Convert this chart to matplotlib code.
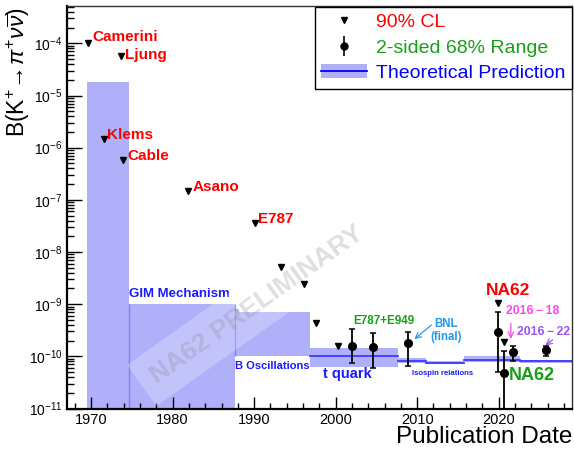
import numpy as np
import matplotlib
matplotlib.use("Agg")
import matplotlib.pyplot as plt
from matplotlib.lines import Line2D
from matplotlib.patches import Patch
from matplotlib.ticker import MultipleLocator, FixedLocator, NullFormatter

plt.rcParams['font.family'] = ['Liberation Sans', 'DejaVu Sans']
plt.rcParams['mathtext.fontset'] = 'custom'
plt.rcParams['mathtext.rm'] = 'Liberation Sans'
plt.rcParams['mathtext.it'] = 'Liberation Sans:italic'

# upper limits (90% CL)
ul_year = np.array([1969.6, 1973.7, 1971.6, 1973.9, 1981.9, 1990.1,
                    1993.3, 1996.1, 1997.6, 2000.3, 2019.9, 2020.6])
ul_val = np.array([1.0e-4, 5.7e-5, 1.47e-6, 5.8e-7, 1.46e-7, 3.6e-8,
                   5.2e-9, 2.4e-9, 4.3e-10, 1.6e-10, 1.05e-9, 1.85e-10])

# 2-sided 68% ranges
m_year = np.array([2002.0, 2004.6, 2008.9, 2019.9, 2020.6, 2021.7, 2025.8])
m_val = np.array([1.57e-10, 1.5e-10, 1.79e-10, 2.9e-10, 4.8e-11, 1.2e-10, 1.34e-10])
m_hi = np.array([3.36e-10, 2.8e-10, 2.9e-10, 7.0e-10, 1.24e-10, 1.57e-10, 1.6e-10])
m_lo = np.array([7.6e-11, 5.9e-11, 6.6e-11, 5.1e-11, 1e-13, 8.2e-11, 1.02e-10])

# theoretical predictions: start, end, low, high, central
th_x0 = [1969.5, 1974.6, 1987.6, 1988.1, 1996.9, 2007.6, 2011.1, 2015.8, 2022.6]
th_x1 = [1974.6, 1987.6, 1988.1, 1996.9, 2007.6, 2011.1, 2015.8, 2022.6, 2029.0]
th_lo = [1e-13, 1e-13, 1.0e-10, 1.0e-10, 6.2e-11, 7.4e-11, 7.2e-11, 7.9e-11, 7.4e-11]
th_hi = [1.8e-5, 1.0e-9, 8.0e-10, 7.1e-10, 1.44e-10, 9.1e-11, 8.0e-11, 1.0e-10, 8.6e-11]
th_c = [None, None, None, None, 1.02e-10, 8.2e-11, 7.6e-11, 8.5e-11, 8.0e-11]

band_col = '#b0b0fa'
line_col = '#3a3aff'

fig = plt.figure(figsize=(5.74, 4.5), dpi=100)
ax = fig.add_axes([66.7 / 574, 1 - 408.5 / 450, (572 - 66.7) / 574, (408.5 - 6) / 450])

for x0, x1, lo, hi, c in zip(th_x0, th_x1, th_lo, th_hi, th_c):
    ax.fill_between([x0, x1], lo, hi, color=band_col, lw=0, zorder=1)
    if c is not None:
        ax.plot([x0, x1], [c, c], color=line_col, lw=1.3, zorder=2)
# band edges
ax.vlines(th_x1[0], th_lo[1], th_hi[1], color='#8080f0', lw=1, zorder=2)
ax.vlines(th_x1[1], th_lo[2], th_hi[1], color='#8080f0', lw=1, zorder=2)

ax.plot(ul_year, ul_val, 'v', color='black', ms=5, zorder=4)
ax.errorbar(m_year, m_val, yerr=[m_val - m_lo, m_hi - m_val], fmt='o', color='black',
            ms=5.5, elinewidth=1.3, capsize=2.2, capthick=1.1, zorder=4)

ax.set_yscale('log')
ax.set_xlim(1967.0, 2029.0)
ax.set_ylim(1e-11, 5.2e-4)

ax.xaxis.set_major_locator(MultipleLocator(10))
ax.xaxis.set_minor_locator(MultipleLocator(2))
decades = 10.0 ** np.arange(-11, -3)
ax.yaxis.set_major_locator(FixedLocator(decades))
minors = np.concatenate([d * np.arange(2, 10) for d in decades])
ax.yaxis.set_minor_locator(FixedLocator(minors[minors < 5.2e-4]))
ax.yaxis.set_minor_formatter(NullFormatter())
ax.tick_params(axis='x', which='major', direction='in', length=8.5, width=1, labelsize=10.5, pad=3)
ax.tick_params(axis='x', which='minor', direction='in', length=4.3, width=1)
ax.tick_params(axis='y', which='major', direction='in', length=10.5, width=1, labelsize=10, pad=3)
ax.tick_params(axis='y', which='minor', direction='in', length=5, width=1)
for s in ['left', 'bottom']:
    ax.spines[s].set_linewidth(1.6)
for s in ['top', 'right']:
    ax.spines[s].set_linewidth(1.0)
    ax.spines[s].set_color('#333333')

# experiment labels
red = '#ff0000'
kw = dict(fontweight='bold', va='center', ha='left')
ax.text(1970.2, 1.32e-4, 'Camerini', color=red, fontsize=11, **kw)
ax.text(1974.2, 5.97e-5, 'Ljung', color=red, fontsize=11, **kw)
ax.text(1972.0, 1.75e-6, 'Klems', color=red, fontsize=11, **kw)
ax.text(1974.45, 6.9e-7, 'Cable', color=red, fontsize=11, **kw)
ax.text(1982.4, 1.79e-7, 'Asano', color=red, fontsize=11, **kw)
ax.text(1990.5, 4.25e-8, 'E787', color=red, fontsize=11, **kw)
ax.text(2018.4, 1.82e-9, 'NA62', color=red, fontsize=12.5, **kw)
ax.text(2021.2, 4.2e-11, 'NA62', color='#16a016', fontsize=13, **kw)
ax.text(2002.2, 4.8e-10, 'E787+E949', color='#16a016', fontsize=8.4, **kw)
ax.text(1974.7, 1.57e-9, 'GIM Mechanism', color='#1a1aff', fontsize=9.5, **kw)
ax.text(1987.7, 6.4e-11, 'B Oscillations', color='#1a1aff', fontsize=8, **kw)
ax.text(1998.45, 4.5e-11, 't quark', color='#1a1aff', fontsize=10.5, **kw)
ax.text(2009.4, 4.6e-11, 'Isospin relations', color='#1a1aff', fontsize=5.6, **kw)
ax.text(2013.5, 3.1e-10, 'BNL\n(final)', color='#2299ee', fontsize=8.3,
        fontweight='bold', ha='center', va='center', linespacing=1.1)
ax.text(2020.85, 7.55e-10, '2016\u2009\u2212\u200918', color='#ff44ee', fontsize=8.8, **kw)
ax.text(2022.25, 2.91e-10, '2016\u2009\u2212\u200922', color='#9955ee', fontsize=8.8, **kw)

ax.annotate('', xy=(2009.4, 1.98e-10), xytext=(2012.0, 4.3e-10),
            arrowprops=dict(arrowstyle='->', color='#2299ee', lw=0.9))
ax.annotate('', xy=(2021.5, 1.92e-10), xytext=(2021.5, 4.86e-10),
            arrowprops=dict(arrowstyle='->', color='#ff44ee', lw=0.9))
ax.annotate('', xy=(2025.45, 1.5e-10), xytext=(2026.9, 2.23e-10),
            arrowprops=dict(arrowstyle='->', color='#9955ee', lw=0.9))

# watermark
ax.text(1990.3, 1.0e-9, 'NA62 PRELIMINARY', fontsize=19, fontweight='bold',
        color='#808080', alpha=0.25, rotation=35.3, ha='center', va='center',
        rotation_mode='anchor', zorder=3,
        bbox=dict(boxstyle='square,pad=0.5', fc='white', ec='none', alpha=0.25))

err_handle = (Line2D([], [], marker='o', color='black', ls='none', ms=5),
              Line2D([], [], marker='|', color='black', ls='none', ms=14, mew=1.2),
              Line2D([], [], marker='_', color='black', ls='none', ms=4.5, mew=1.1))
handles = [
    Line2D([], [], marker='v', color='black', ls='none', ms=5),
    err_handle,
    (Patch(facecolor=band_col, edgecolor='none'), Line2D([], [], color='#0000ff', lw=1.3)),
]
labels = ['90% CL', '2-sided 68% Range', 'Theoretical Prediction']
leg = ax.legend(handles, labels, loc='upper right', bbox_to_anchor=(1.0, 0.998),
                borderaxespad=0, fontsize=14, frameon=True, fancybox=False,
                edgecolor='black', framealpha=1, handlelength=2.35, handletextpad=0.45,
                borderpad=0.35, labelspacing=0.4,
                labelcolor=['#ff0000', '#16a016', '#0000ff'])
leg.get_frame().set_linewidth(1.0)

fig.text(18 / 574, 1 - 72.5 / 450, r'B(K$^{+}\!\rightarrow\!\pi^{+}\nu\overline{\nu}$)',
         rotation=90, ha='center', va='center', fontsize=16.5)
fig.text(572 / 574, 1 - 437 / 450, 'Publication Date', ha='right', va='center', fontsize=17.5)

fig.savefig('out.png', dpi=100)
